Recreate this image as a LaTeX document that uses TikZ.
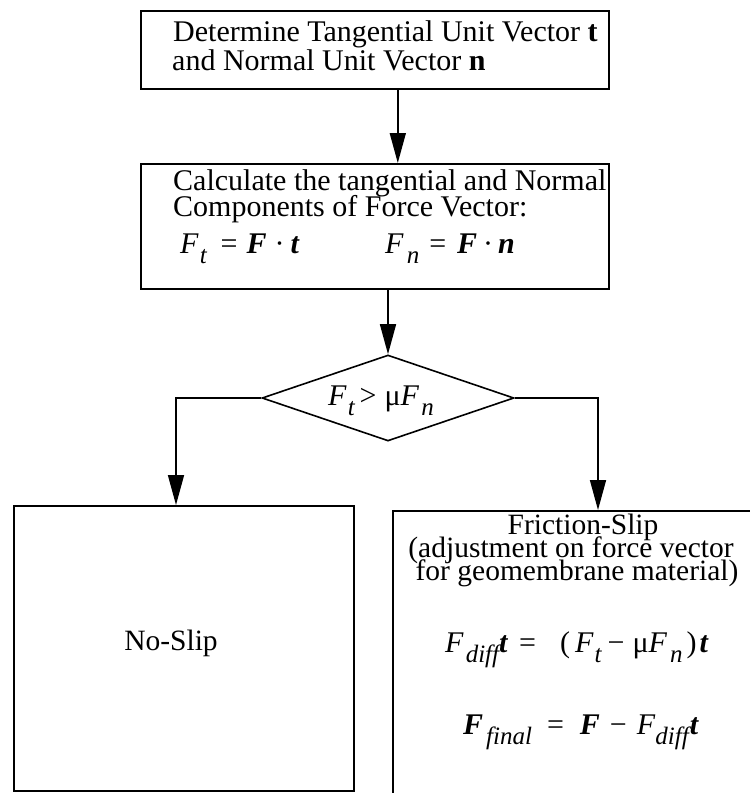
\documentclass[tikz,border=0pt]{standalone}
\usepackage{fontspec}
\setmainfont{Liberation Serif}
\usetikzlibrary{shapes.geometric,arrows.meta}
\newcommand\msub[1]{\raisebox{-10pt}{\fontsize{25}{25}\selectfont\itshape #1}}
\newcommand\bv[1]{\textbf{\textit{#1}}}
\newcommand\hs[1]{\hspace{#1pt}}
\begin{document}
\begin{tikzpicture}[x=1pt,y=-1pt,
  box/.style={draw, line width=1.6pt, inner sep=0pt, anchor=north west},
  txt/.style={inner sep=0pt, anchor=base west, font=\fontsize{30}{30}\selectfont},
  ctxt/.style={inner sep=0pt, anchor=base, font=\fontsize{29.5}{30}\selectfont},
  arr/.style={line width=1.6pt, -{Triangle[length=30pt,width=16pt]}},
  lin/.style={line width=1.6pt}]
\useasboundingbox (0,0) rectangle (750,793);
\clip (0,0) rectangle (750,793);
% boxes
\node[box, minimum width=468pt, minimum height=78pt] (b1) at (140,10) {};
\node[box, minimum width=468pt, minimum height=125pt] (b2) at (140,163) {};
\node[diamond, draw, line width=1.6pt, inner sep=0pt, minimum width=252pt, minimum height=86pt] (d) at (388,398) {};
\node[box, minimum width=340pt, minimum height=285pt] (ns) at (13,505) {};
\node[box, minimum width=380pt, minimum height=300pt] (fr) at (392,510) {};
% texts
\node[txt] (t1a) at (173,41) {Determine Tangential Unit Vector \textbf{t}};
\node[txt] (t1b) at (172,70) {and Normal Unit Vector \textbf{n}};
\node[txt] (t2a) at (173,190) {Calculate the tangential and Normal};
\node[txt] (t2b) at (173,216) {Components of Force Vector:};
\node[txt] (t2c) at (180,253) {\textit{F}\hs{1}\msub{t}\hs{14}=\hs{9}\bv{F}\hs{8}·\hs{6}\bv{t}};
\node[txt] (t2d) at (385,253) {\textit{F}\hs{3}\msub{n}\hs{10}=\hs{11}\bv{F}\hs{6}·\hs{5}\bv{n}};
\node[txt] (td) at (328,405) {\textit{F}\hs{1}\msub{t}\hs{5}>\hs{8}μ\textit{F}\hs{2}\msub{n}};
\node[ctxt] (tns) at (171,650) {No-Slip};
\node[ctxt] (tf1) at (583,534) {Friction-Slip};
\node[ctxt] (tf2) at (571,557) {(adjustment on force vector};
\node[ctxt] (tf3) at (577,580) {for geomembrane material)};
\node[txt] (tf4) at (445,652) {\textit{F}\hs{2}\msub{diff}\bv{t}\hs{11}=\hs{24}(\hs{5}\textit{F}\hs{1}\msub{t}\hs{6}−\hs{8}μ\textit{F}\hs{3}\msub{n}\hs{4})\hs{3}\bv{t}};
\node[txt] (tf5) at (463,734) {\bv{F}\hs{3}\msub{final}\hs{15}=\hs{16}\bv{F}\hs{10}−\hs{10}\textit{F}\msub{diff}\hs{1}\bv{t}};
% connectors
\coordinate (lt) at (176,505);
\coordinate (rt) at (598,510);
\draw[arr] ([xshift=23pt]b1.south) -- ([xshift=23pt]b2.north);
\draw[arr] (d.north |- b2.south) -- (d.north);
\draw[arr] (d.west) -| (lt);
\draw[arr] (d.east) -| (rt);
\end{tikzpicture}
\end{document}
